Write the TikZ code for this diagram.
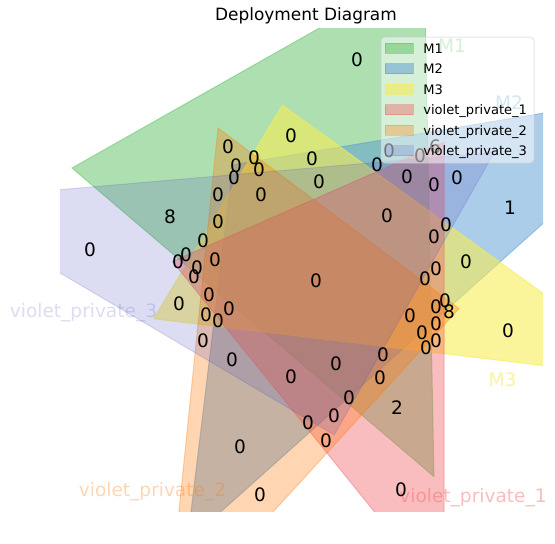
\documentclass[tikz,border=0pt]{standalone}
\usepackage{fontspec}
\setmainfont{DejaVu Sans}
\definecolor{setgreen}{RGB}{92,192,98}
\definecolor{setblue}{RGB}{90,155,212}
\definecolor{setyellow}{RGB}{246,236,86}
\definecolor{setred}{RGB}{241,90,96}
\definecolor{setorange}{RGB}{255,117,0}
\definecolor{setviolet}{RGB}{82,82,190}
\tikzset{
  setm1/.style={fill=setgreen, draw=setgreen, opacity=0.5, line width=0.75pt},
  setm2/.style={fill=setblue, draw=setblue, opacity=0.5, line width=0.75pt},
  setm3/.style={fill=setyellow, draw=setyellow, opacity=0.6, line width=0.75pt},
  setvp1/.style={fill=setred, draw=setred, opacity=0.4, line width=0.75pt},
  setvp2/.style={fill=setorange, draw=setorange, opacity=0.3, line width=0.75pt},
  setvp3/.style={fill=setviolet, draw=setviolet, opacity=0.2, line width=0.75pt},
  count/.style={font=\fontsize{13.9}{16}\selectfont},
  setname/.style={font=\fontsize{13.9}{16}\selectfont, anchor=base},
  legtext/.style={font=\fontsize{9.8}{12}\selectfont, anchor=base west}
}
\begin{document}
\begin{tikzpicture}[x=0.75pt,y=0.75pt]
\tikzset{every node/.append style={inner sep=0pt}}
\useasboundingbox (0,0) rectangle (555,-543);
\draw (306,-16) node [font=\fontsize{12.7}{15}\selectfont] (title) {Deployment Diagram};
% the six triangles, clipped to the axes
\begin{scope}
\clip (60.2,-28.3) rectangle (543,-511);
\draw [setm1] (424.4,31.4) -- (433.9,-476.5) -- (72.0,-168.0) -- cycle;
\draw [setm2] (694.5,-87.9) -- (187.4,-541.7) -- (232.9,-164.9) -- cycle;
\draw [setm3] (663.1,-380.0) -- (153.6,-318.7) -- (282.4,-105.2) -- cycle;
\draw [setvp1] (444.1,-598.2) -- (172.5,-261.4) -- (444.1,-142.1) -- cycle;
\draw [setvp2] (167.0,-628.0) -- (218.0,-128.0) -- (459.0,-308.5) -- cycle;
\draw [setvp3] (-63.0,-200.2) -- (494.3,-152.3) -- (334.2,-434.9) -- cycle;
\end{scope}
% set names
\draw (452,-52.7) node [setname, text=setgreen, text opacity=0.5] (nm1) {M1};
\draw (509,-109.3) node [setname, text=setblue, text opacity=0.5] (nm2) {M2};
\draw (502.5,-386) node [setname, text=setyellow, text opacity=0.6] (nm3) {M3};
\draw (473,-502.7) node [setname, text=setred, text opacity=0.4] (nvp1) {violet\_private\_1};
\draw (152.5,-496.7) node [setname, text=setorange, text opacity=0.3] (nvp2) {violet\_private\_2};
\draw (83.5,-317.3) node [setname, text=setviolet, text opacity=0.2] (nvp3) {violet\_private\_3};
% region counts
\draw (357,-60) node [count] (c1) {0};
\draw (291,-136) node [count] (c2) {0};
\draw (228,-147) node [count] (c3) {0};
\draw (236,-166) node [count] (c4) {0};
\draw (234,-178) node [count] (c5) {0};
\draw (254,-158) node [count] (c6) {0};
\draw (259,-170) node [count] (c7) {0};
\draw (312,-159) node [count] (c8) {0};
\draw (319,-182) node [count] (c9) {0};
\draw (218,-195) node [count] (c10) {0};
\draw (261,-195) node [count] (c11) {0};
\draw (170,-217) node [count] (c12) {8};
\draw (218,-222) node [count] (c13) {0};
\draw (90,-250) node [count] (c14) {0};
\draw (203,-241) node [count] (c15) {0};
\draw (186,-255) node [count] (c16) {0};
\draw (178,-262) node [count] (c17) {0};
\draw (215,-260) node [count] (c18) {0};
\draw (197,-268) node [count] (c19) {0};
\draw (194,-277) node [count] (c20) {0};
\draw (209,-295) node [count] (c21) {0};
\draw (179,-304) node [count] (c22) {0};
\draw (229,-309) node [count] (c23) {0};
\draw (206,-315) node [count] (c24) {0};
\draw (218,-321) node [count] (c25) {0};
\draw (203,-341) node [count] (c26) {0};
\draw (232,-360) node [count] (c27) {0};
\draw (389,-151) node [count] (c28) {0};
\draw (435,-147) node [count] (c29) {6};
\draw (420,-156) node [count] (c30) {0};
\draw (377,-165) node [count] (c31) {0};
\draw (407,-177) node [count] (c32) {0};
\draw (434,-185) node [count] (c33) {0};
\draw (457,-178) node [count] (c34) {0};
\draw (387,-216) node [count] (c35) {0};
\draw (446,-225) node [count] (c36) {0};
\draw (510,-208) node [count] (c37) {1};
\draw (434,-237) node [count] (c38) {0};
\draw (466,-262) node [count] (c39) {0};
\draw (436,-269) node [count] (c40) {0};
\draw (425,-279) node [count] (c41) {0};
\draw (316,-281) node [count] (c42) {0};
\draw (445,-301) node [count] (c43) {0};
\draw (436,-307) node [count] (c44) {0};
\draw (449,-312) node [count] (c45) {8};
\draw (410,-316) node [count] (c46) {0};
\draw (436,-324) node [count] (c47) {0};
\draw (422,-333) node [count] (c48) {0};
\draw (436,-341) node [count] (c49) {0};
\draw (426,-348) node [count] (c50) {0};
\draw (508,-331) node [count] (c51) {0};
\draw (383,-355) node [count] (c52) {0};
\draw (336,-364) node [count] (c53) {0};
\draw (291,-377) node [count] (c54) {0};
\draw (380,-378) node [count] (c55) {0};
\draw (349,-398) node [count] (c56) {0};
\draw (397,-408) node [count] (c57) {2};
\draw (334,-416) node [count] (c58) {0};
\draw (308,-423) node [count] (c59) {0};
\draw (326,-441) node [count] (c60) {0};
\draw (240,-447) node [count] (c61) {0};
\draw (260,-495) node [count] (c62) {0};
\draw (401,-490) node [count] (c63) {0};
% legend
\draw [rounded corners=3, fill=white, fill opacity=0.5, draw=black!20, draw opacity=0.5, line width=0.75pt] (381,-37) rectangle (534,-163);
\draw [setm1] (385,-43.3) rectangle (413,-53.3);
\draw (423,-53.1) node [legtext] (l1) {M1};
\draw [setm2] (385,-63.8) rectangle (413,-73.8);
\draw (423,-73.6) node [legtext] (l2) {M2};
\draw [setm3] (385,-84.3) rectangle (413,-94.3);
\draw (423,-94.1) node [legtext] (l3) {M3};
\draw [setvp1] (385,-104.8) rectangle (413,-114.8);
\draw (423,-114.6) node [legtext] (l4) {violet\_private\_1};
\draw [setvp2] (385,-125.3) rectangle (413,-135.3);
\draw (423,-135.1) node [legtext] (l5) {violet\_private\_2};
\draw [setvp3] (385,-145.8) rectangle (413,-155.8);
\draw (423,-155.6) node [legtext] (l6) {violet\_private\_3};
\end{tikzpicture}
\end{document}
